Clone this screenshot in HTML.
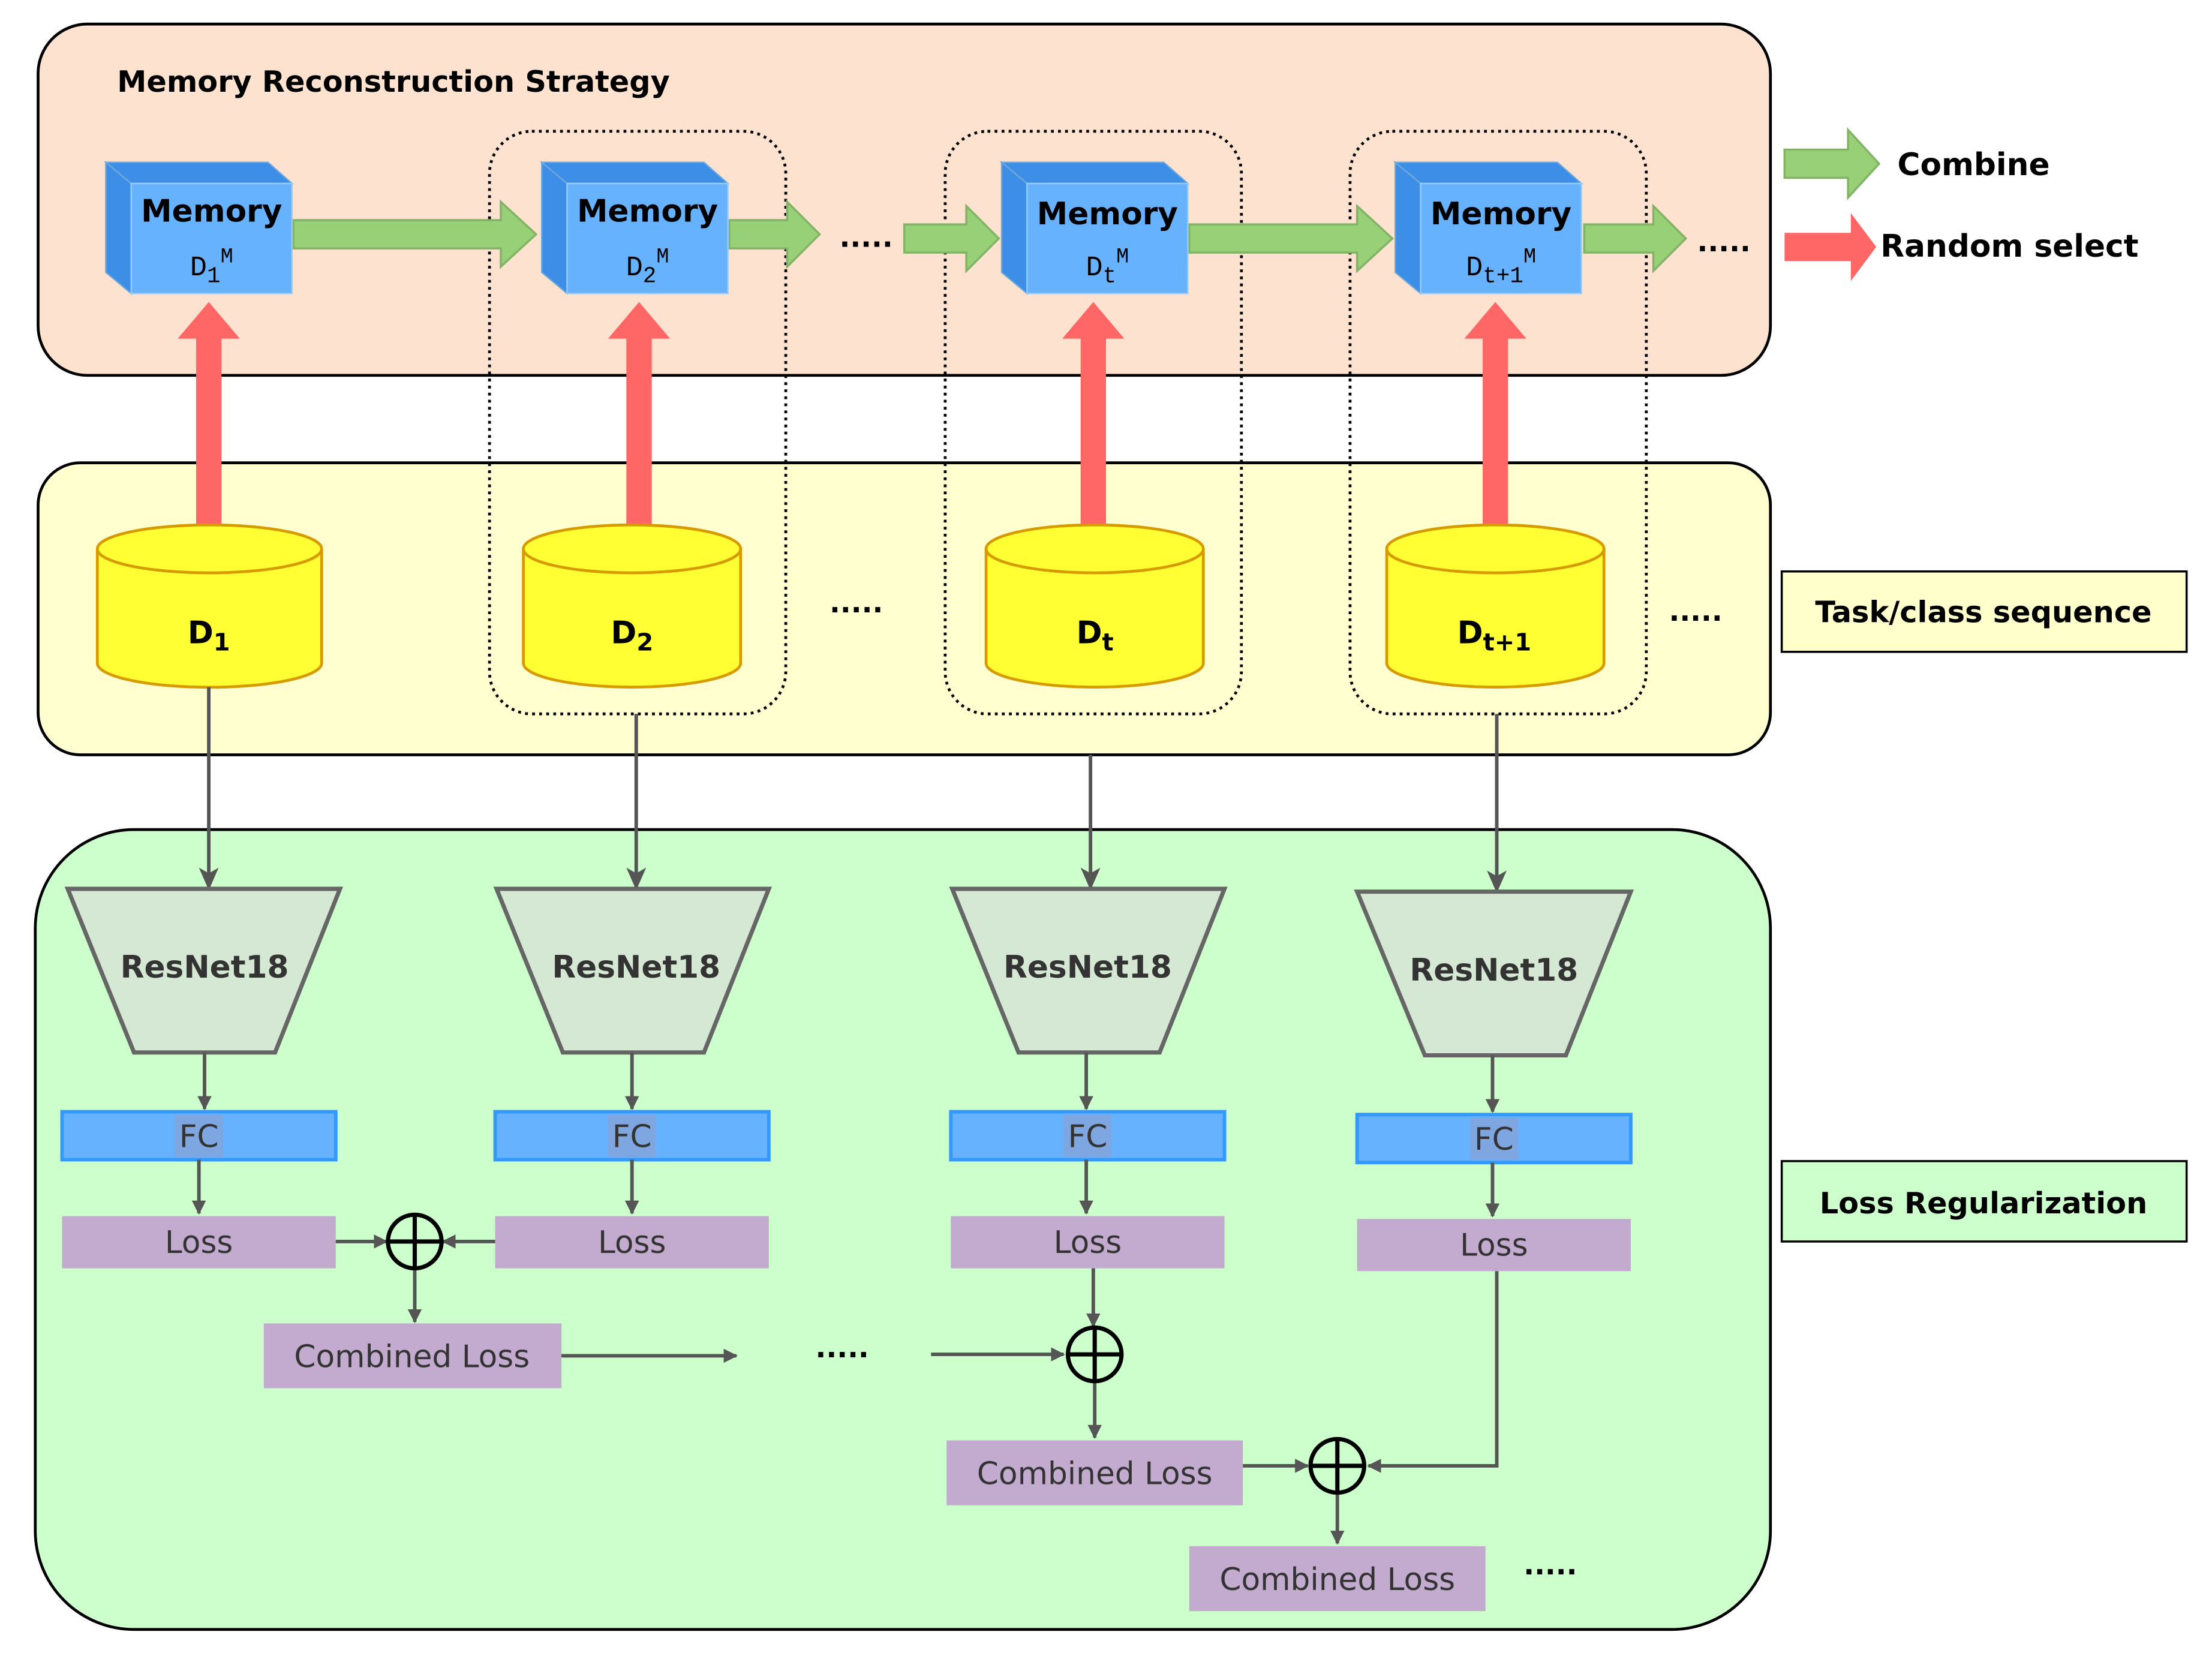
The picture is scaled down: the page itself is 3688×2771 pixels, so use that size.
<!DOCTYPE html>
<html><head><meta charset="utf-8"><style>
html,body{margin:0;padding:0;background:#fff}
svg{display:block}
text{font-family:"DejaVu Sans","Liberation Sans",sans-serif}
text.mono{font-family:"Liberation Mono",monospace}
</style></head><body>
<svg width="3688" height="2771" viewBox="0 0 1568 1178" xmlns="http://www.w3.org/2000/svg">
<defs>
<marker id="ah" markerWidth="10" markerHeight="10" refX="9" refY="5" orient="auto" markerUnits="userSpaceOnUse"><path d="M0,0 L10,5 L0,10 Z" fill="#555"/></marker>
<marker id="ah2" markerWidth="16" markerHeight="14" refX="15" refY="7" orient="auto" markerUnits="userSpaceOnUse"><path d="M0,0 L16,7 L0,14 L4,7 Z" fill="#555"/></marker>
</defs>
<rect x="27" y="17" width="1228" height="249" rx="35" fill="#fde3cf" stroke="#000" stroke-width="2"/>
<rect x="27" y="328" width="1228" height="207" rx="30" fill="#ffffcf" stroke="#000" stroke-width="2"/>
<rect x="25" y="588" width="1230" height="567" rx="70" fill="#ccffcc" stroke="#000" stroke-width="2"/>
<text x="83" y="65" font-size="21" font-weight="bold">Memory Reconstruction Strategy</text>
<g fill="none" stroke="#000" stroke-width="2" stroke-dasharray="2,3">
<rect x="347" y="93" width="210" height="413" rx="30"/>
<rect x="670" y="93" width="210" height="413" rx="30"/>
<rect x="957" y="93" width="210" height="413" rx="30"/>
</g>
<g fill="#97d077" stroke="#82b366" stroke-width="1.5">
<path d="M208,156 H355 V143 L380,166 L355,189 V176 H208 Z"/>
<path d="M517,156 H558 V143 L581,166 L558,189 V176 H517 Z"/>
<path d="M641,159 H685 V146 L708,169 L685,192 V179 H641 Z"/>
<path d="M843,159 H962 V146 L987,169 L962,192 V179 H843 Z"/>
<path d="M1123,159 H1172 V146 L1195,169 L1172,192 V179 H1123 Z"/>
<path d="M1265,106 H1310 V92 L1332,116 L1310,140 V126 H1265 Z"/>
</g>
<g font-size="20" font-weight="bold"><text x="595" y="175">.....</text><text x="1203" y="178">.....</text></g>
<g fill="#ff6666">
<path d="M139,372 V240 H126 L148,214 L170,240 H157 V372 Z"/>
<path d="M444,372 V240 H431 L453,214 L475,240 H462 V372 Z"/>
<path d="M766,372 V240 H753 L775,214 L797,240 H784 V372 Z"/>
<path d="M1051,372 V240 H1038 L1060,214 L1082,240 H1069 V372 Z"/>
<path d="M1265,165 H1312 V151 L1330,175 L1312,199 V185 H1265 Z"/>
</g>
<text x="1345" y="124" font-size="22" font-weight="bold">Combine</text>
<text x="1333" y="182" font-size="22" font-weight="bold">Random select</text>
<g transform="translate(75,115)">
<path d="M0,0 H115 L132,15 H18 Z" fill="#3d8ee6" stroke="#6fa8dc"/><path d="M0,0 L18,15 V93 L0,78 Z" fill="#3d8ee6" stroke="#6fa8dc"/><rect x="18" y="15" width="114" height="78" fill="#66b2ff" stroke="#99ccff"/>
<text x="75" y="42" font-size="22" font-weight="bold" text-anchor="middle">Memory</text><text class="mono" x="75" y="80" font-size="20" text-anchor="middle">D<tspan font-size="16" dy="5">1</tspan><tspan font-size="15" dy="-14">M</tspan></text></g>
<g transform="translate(384,115)">
<path d="M0,0 H115 L132,15 H18 Z" fill="#3d8ee6" stroke="#6fa8dc"/><path d="M0,0 L18,15 V93 L0,78 Z" fill="#3d8ee6" stroke="#6fa8dc"/><rect x="18" y="15" width="114" height="78" fill="#66b2ff" stroke="#99ccff"/>
<text x="75" y="42" font-size="22" font-weight="bold" text-anchor="middle">Memory</text><text class="mono" x="75" y="80" font-size="20" text-anchor="middle">D<tspan font-size="16" dy="5">2</tspan><tspan font-size="15" dy="-14">M</tspan></text></g>
<g transform="translate(710,115)">
<path d="M0,0 H115 L132,15 H18 Z" fill="#3d8ee6" stroke="#6fa8dc"/><path d="M0,0 L18,15 V93 L0,78 Z" fill="#3d8ee6" stroke="#6fa8dc"/><rect x="18" y="15" width="114" height="78" fill="#66b2ff" stroke="#99ccff"/>
<text x="75" y="44" font-size="22" font-weight="bold" text-anchor="middle">Memory</text><text class="mono" x="75" y="80" font-size="20" text-anchor="middle">D<tspan font-size="16" dy="5">t</tspan><tspan font-size="15" dy="-14">M</tspan></text></g>
<g transform="translate(989,115)">
<path d="M0,0 H115 L132,15 H18 Z" fill="#3d8ee6" stroke="#6fa8dc"/><path d="M0,0 L18,15 V93 L0,78 Z" fill="#3d8ee6" stroke="#6fa8dc"/><rect x="18" y="15" width="114" height="78" fill="#66b2ff" stroke="#99ccff"/>
<text x="75" y="44" font-size="22" font-weight="bold" text-anchor="middle">Memory</text><text class="mono" x="75" y="80" font-size="20" text-anchor="middle">D<tspan font-size="16" dy="5">t+1</tspan><tspan font-size="15" dy="-14">M</tspan></text></g>
<g stroke="#d79b00" stroke-width="2" fill="#ffff33">
<path d="M69,389 V470 A79,17 0 0 0 228,470 V389"/><ellipse cx="148.5" cy="389" rx="79.5" ry="17"/>
<path d="M371,389 V470 A77,17 0 0 0 525,470 V389"/><ellipse cx="448" cy="389" rx="77" ry="17"/>
<path d="M699,389 V470 A77,17 0 0 0 853,470 V389"/><ellipse cx="776" cy="389" rx="77" ry="17"/>
<path d="M983,389 V470 A77,17 0 0 0 1137,470 V389"/><ellipse cx="1060" cy="389" rx="77" ry="17"/>
</g>
<g font-size="22" font-weight="bold">
<text x="133" y="456">D<tspan font-size="17" dy="5">1</tspan></text>
<text x="433" y="456">D<tspan font-size="17" dy="5">2</tspan></text>
<text x="763" y="456">D<tspan font-size="17" dy="5">t</tspan></text>
<text x="1033" y="456">D<tspan font-size="17" dy="5">t+1</tspan></text>
<text x="588" y="434" font-size="20">.....</text><text x="1183" y="440" font-size="20">.....</text>
</g>
<rect x="1263" y="405" width="287" height="57" fill="#ffffcc" stroke="#000" stroke-width="1.5"/>
<text x="1406" y="441" font-size="21" font-weight="bold" text-anchor="middle">Task/class sequence</text>
<rect x="1263" y="823" width="287" height="57" fill="#ccffcc" stroke="#000" stroke-width="1.5"/>
<text x="1406" y="860" font-size="21" font-weight="bold" text-anchor="middle">Loss Regularization</text>
<g stroke="#555" stroke-width="2.5" fill="none" marker-end="url(#ah2)">
<path d="M148,487 V630"/><path d="M451,506 V630"/><path d="M773,535 V630"/><path d="M1061,506 V632"/>
</g>
<path d="M48,630 H241 L195,746 H95 Z" fill="#d5e8d4" stroke="#666" stroke-width="3"/>
<text x="145" y="693" font-size="22" font-weight="bold" fill="#333" text-anchor="middle">ResNet18</text>
<path d="M352,630 H545 L499,746 H399 Z" fill="#d5e8d4" stroke="#666" stroke-width="3"/>
<text x="451" y="693" font-size="22" font-weight="bold" fill="#333" text-anchor="middle">ResNet18</text>
<path d="M675,630 H868 L822,746 H722 Z" fill="#d5e8d4" stroke="#666" stroke-width="3"/>
<text x="771" y="693" font-size="22" font-weight="bold" fill="#333" text-anchor="middle">ResNet18</text>
<path d="M962,632 H1156 L1110,748 H1010 Z" fill="#d5e8d4" stroke="#666" stroke-width="3"/>
<text x="1059" y="695" font-size="22" font-weight="bold" fill="#333" text-anchor="middle">ResNet18</text>
<g fill="#66b2ff" stroke="#3399ff" stroke-width="2.5">
<rect x="44" y="788" width="194" height="34"/><rect x="351" y="788" width="194" height="34"/><rect x="674" y="788" width="194" height="34"/><rect x="962" y="790" width="194" height="34"/>
</g>
<g fill="#7ea6e0"><rect x="124" y="790" width="34" height="30"/><rect x="431" y="790" width="34" height="30"/><rect x="754" y="790" width="34" height="30"/><rect x="1042" y="792" width="34" height="30"/></g>
<g font-size="22" fill="#333" text-anchor="middle">
<text x="141" y="813">FC</text><text x="448" y="813">FC</text><text x="771" y="813">FC</text><text x="1059" y="815">FC</text>
</g>
<g fill="#c3abd0">
<rect x="44" y="862" width="194" height="37"/><rect x="351" y="862" width="194" height="37"/><rect x="674" y="862" width="194" height="37"/><rect x="962" y="864" width="194" height="37"/>
<rect x="187" y="938" width="211" height="46"/><rect x="671" y="1021" width="210" height="46"/><rect x="843" y="1096" width="210" height="46"/>
</g>
<g font-size="22" fill="#333" text-anchor="middle">
<text x="141" y="888">Loss</text><text x="448" y="888">Loss</text><text x="771" y="888">Loss</text><text x="1059" y="890">Loss</text>
<text x="292" y="969">Combined Loss</text><text x="776" y="1052">Combined Loss</text><text x="948" y="1127">Combined Loss</text>
</g>
<g stroke="#555" stroke-width="2.5" fill="none" marker-end="url(#ah)">
<path d="M145,746 V786"/><path d="M448,746 V786"/><path d="M770,746 V786"/><path d="M1058,748 V788"/>
<path d="M141,822 V860"/><path d="M448,822 V860"/><path d="M770,822 V860"/><path d="M1058,824 V862"/>
<path d="M238,880 H274"/><path d="M351,880 H314"/><path d="M294,900 V937"/>
<path d="M398,961 H522"/><path d="M660,960 H754"/><path d="M775,899 V940"/><path d="M776,980 V1019"/>
<path d="M881,1039 H927"/><path d="M1061,901 V1039 H970"/><path d="M948,1059 V1094"/>
</g>
<g stroke="#000" stroke-width="3" fill="none">
<circle cx="294" cy="880" r="19"/><path d="M275,880 H313 M294,861 V899"/>
<circle cx="776" cy="960" r="19"/><path d="M757,960 H795 M776,941 V979"/>
<circle cx="948" cy="1039" r="19"/><path d="M929,1039 H967 M948,1020 V1058"/>
</g>
<g font-size="20" font-weight="bold"><text x="578" y="962">.....</text><text x="1080" y="1116">.....</text></g>
</svg>
</body></html>
